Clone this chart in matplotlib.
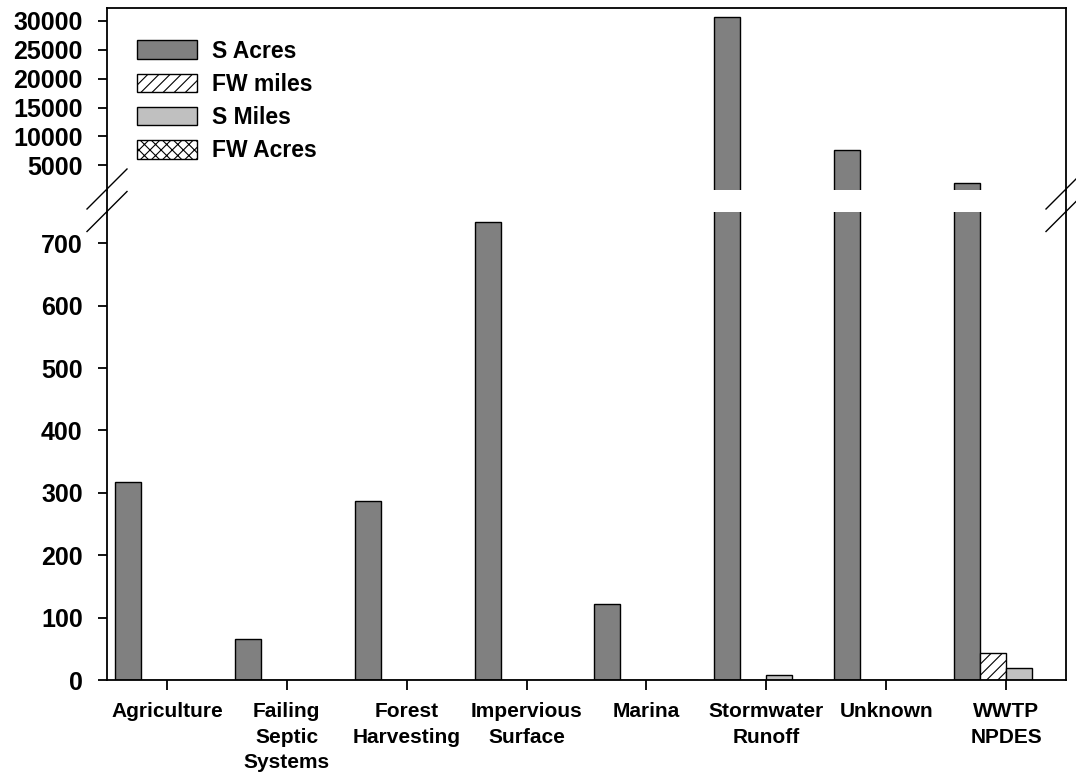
import matplotlib
matplotlib.use("Agg")
import matplotlib.pyplot as plt
from matplotlib.lines import Line2D
import numpy as np

categories = ["Agriculture", "Failing\nSeptic\nSystems", "Forest\nHarvesting",
              "Impervious\nSurface", "Marina", "Stormwater\nRunoff",
              "Unknown", "WWTP\nNPDES"]
s_acres = [318, 66, 287, 734, 121, 30600, 7610, 1960]
fw_miles = [0, 0, 0, 0, 0, 0, 0, 43]
s_miles = [0, 0, 0, 0, 0, 8.5, 0, 19]
fw_acres = [0, 0, 0, 0, 0, 0, 0, 0]

series = [
    ("S Acres", s_acres, "#808080", None),
    ("FW miles", fw_miles, "white", "///"),
    ("S Miles", s_miles, "#c0c0c0", None),
    ("FW Acres", fw_acres, "white", "xxx"),
]

plt.rcParams['font.family'] = ['Liberation Sans', 'DejaVu Sans']
plt.rcParams['font.weight'] = 'bold'
plt.rcParams['hatch.linewidth'] = 0.8

W, H = 1076, 775
fig = plt.figure(figsize=(W / 100, H / 100), dpi=100)


def fx(px):
    return px / W


def fy(py):
    return 1 - py / H


left, right = 107, 1066
ax_top = fig.add_axes([fx(left), fy(190), fx(right - left), fy(8) - fy(190)])
ax_bot = fig.add_axes([fx(left), fy(680), fx(right - left), fy(212) - fy(680)])
split = 750

x = np.arange(len(categories))
width = 0.2167
for ax in (ax_top, ax_bot):
    for i, (name, vals, color, hatch) in enumerate(series):
        vals = np.array(vals, dtype=float)
        if ax is ax_top:
            # only bars reaching past the break show in the upper panel
            vals = np.where(vals > split, vals, np.nan)
        ax.bar(x + (i - 1.5) * width, vals, width, color=color,
               edgecolor="black", linewidth=1.0, hatch=hatch, label=name)
    ax.set_xlim(-0.5, len(categories) - 0.5)
    for sp in ax.spines.values():
        sp.set_linewidth(1.3)
    ax.tick_params(axis="y", direction="out", length=6.5, width=1.3, pad=11,
                   labelsize=18)

ax_top.set_ylim(split, 32200)
ax_top.set_yticks([5000, 10000, 15000, 20000, 25000, 30000])
ax_top.spines["bottom"].set_visible(False)
ax_top.tick_params(axis="x", bottom=False, labelbottom=False)

ax_bot.set_ylim(0, split)
ax_bot.set_yticks(range(0, 701, 100))
ax_bot.spines["top"].set_visible(False)
ax_bot.set_xticks(x)
ax_bot.set_xticklabels(categories, linespacing=1.42)
ax_bot.tick_params(axis="x", direction="out", length=7, width=1.3, pad=9,
                   labelsize=15)

ax_top.legend(loc="upper left", bbox_to_anchor=(0.022, 0.877), frameon=False,
              fontsize=16.5, handlelength=2.6, handleheight=0.85,
              labelspacing=0.45, handletextpad=0.65, borderaxespad=0)

# continuous side spines through the gap and break marks
for px in (left, right):
    fig.add_artist(Line2D([fx(px), fx(px)], [fy(190), fy(212)],
                          color="black", linewidth=1.3))
    for py in (189, 211.5):
        fig.add_artist(Line2D([fx(px - 20), fx(px + 20)],
                              [fy(py + 20), fy(py - 20)],
                              color="black", linewidth=1.0))

fig.savefig("out.png", dpi=100)
